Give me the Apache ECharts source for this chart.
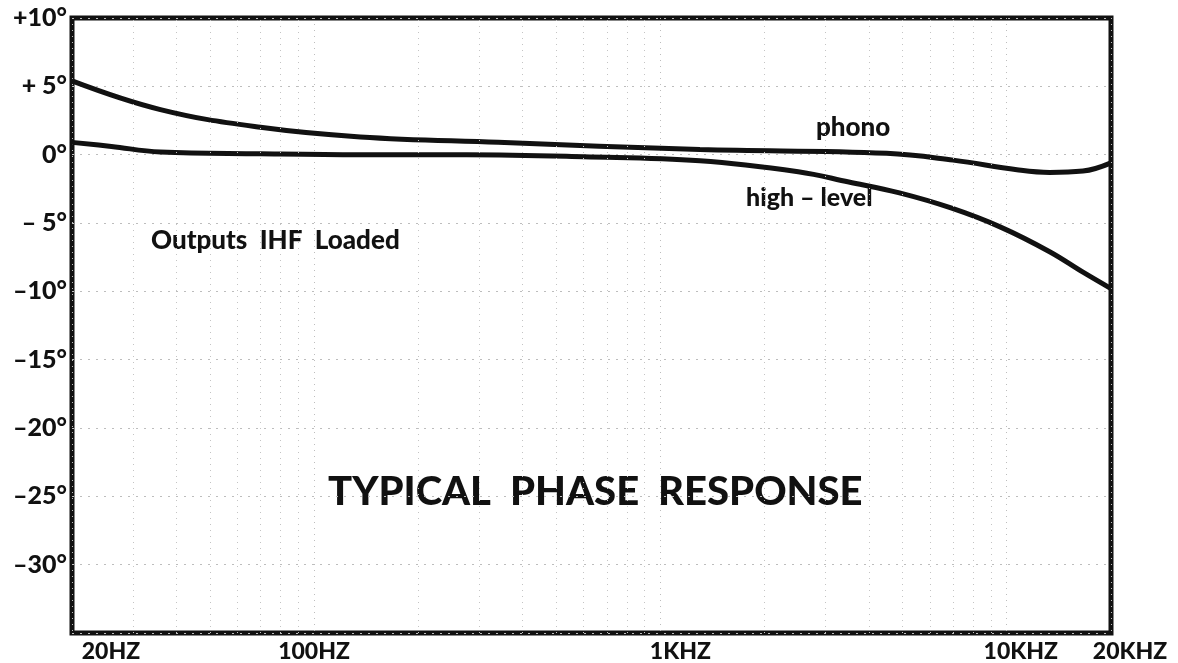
<!DOCTYPE html>
<html>
<head>
<meta charset="utf-8">
<script src="https://cdn.jsdelivr.net/npm/echarts@6/dist/echarts.min.js"></script>
<style>
  html, body { margin: 0; padding: 0; background: #fff; }
  #phaseChart { width: 1178px; height: 663px; }
</style>
</head>
<body>
<div id="phaseChart"></div>
<script>
// frequency (Hz) / phase (degrees)
const phonoFreq = [20, 36, 70, 136, 340, 1300, 4500, 7000, 10700, 13300, 16600, 20000]
const phonoPhase = [5.4, 3.3, 2.0, 1.3, 0.9, 0.37, 0.1, -0.4, -1.1, -1.3, -1.2, -0.6]

const highLevelFreq = [20, 26, 36, 70, 136, 276, 600, 1300, 2500, 3500, 4900, 6900, 9600, 13300, 16600, 20000]
const highLevelPhase = [0.9, 0.6, 0.2, 0.07, 0, 0, -0.15, -0.45, -1.25, -2.0, -2.8, -3.9, -5.3, -7.1, -8.6, -9.8]

const xTickValues = [20, 100, 1000, 10000, 20000]
const xTickLabels = ['20HZ', '100HZ', '1KHZ', '10KHZ', '20KHZ']

const yTickValues = [10, 5, 0, -5, -10, -15, -20, -25, -30]
const yTickLabels = ['+10°', '+ 5°', '0°', '– 5°', '–10°', '–15°', '–20°', '–25°', '–30°']

// faint vertical rulings of the graph paper
const gridFreqs = [30, 40, 50, 60, 70, 80, 90, 200, 300, 400, 500, 600, 700, 800, 900,
  2000, 3000, 4000, 5000, 6000, 7000, 8000, 9000]

const FONT = 'Lato, "DejaVu Sans", sans-serif'
const INK = '#111'

// small right shifts of some frequency labels, as printed
const xLabelShift = { '20HZ': 78, '1KHZ': 40, '10KHZ': 28, '20KHZ': 38 }

const toPairs = (xs, ys) => xs.map((x, i) => [x, ys[i]])

const initPhaseChart = () => {
  const chart = echarts.init(document.getElementById('phaseChart'))
  const rich = {}
  Object.keys(xLabelShift).forEach((k, i) => {
    rich['s' + i] = { padding: [0, 0, 0, xLabelShift[k]], fontFamily: FONT, fontWeight: 900, fontSize: 23, color: INK }
  })
  const option = {
    animation: false,
    backgroundColor: '#fff',
    grid: {
      left: 72, right: 67, top: 18, bottom: 30,
      show: true,
      borderColor: INK,
      borderWidth: 5
    },
    xAxis: {
      type: 'log',
      logBase: 10,
      min: 20,
      max: 20000,
      axisLine: { show: false },
      axisTick: { show: false },
      splitLine: { show: true, lineStyle: { color: '#bdbdbd', type: [1, 5], width: 1 } },
      axisLabel: {
        margin: 7,
        fontFamily: FONT,
        fontWeight: 900,
        fontSize: 23,
        color: INK,
        showMinLabel: true,
        showMaxLabel: true,
        rich: rich,
        formatter: function (value) {
          const idx = xTickValues.findIndex(v => Math.abs(v - value) / v < 1e-6)
          if (idx < 0) return ''
          const label = xTickLabels[idx]
          const shiftIdx = Object.keys(xLabelShift).indexOf(label)
          return shiftIdx >= 0 ? '{s' + shiftIdx + '|' + label + '}' : label
        }
      }
    },
    yAxis: {
      type: 'value',
      min: -35,
      max: 10,
      interval: 5,
      axisLine: { show: false },
      axisTick: { show: false },
      splitLine: { show: true, lineStyle: { color: '#bdbdbd', type: [2, 6], width: 1 } },
      axisLabel: {
        margin: 5,
        fontFamily: FONT,
        fontWeight: 900,
        fontSize: 25,
        color: INK,
        formatter: function (value) {
          const idx = yTickValues.indexOf(value)
          return idx < 0 ? '' : yTickLabels[idx]
        }
      }
    },
    series: [{
      name: 'phono',
      type: 'line',
      smooth: 0.4,
      showSymbol: false,
      symbol: 'none',
      data: toPairs(phonoFreq, phonoPhase),
      lineStyle: { color: INK, width: 5 },
      markLine: {
        silent: true,
        symbol: 'none',
        label: { show: false },
        lineStyle: { color: '#c4c4c4', type: [1, 5], width: 1 },
        data: gridFreqs.map(f => ({ xAxis: f }))
      },
      z: 3
    }, {
      name: 'high-level',
      type: 'line',
      smooth: 0.4,
      showSymbol: false,
      symbol: 'none',
      data: toPairs(highLevelFreq, highLevelPhase),
      lineStyle: { color: INK, width: 5 },
      z: 3
    }],
    graphic: [{
      type: 'text', left: 816, top: 115,
      style: { text: 'phono', font: '900 26px ' + FONT, fill: INK }
    }, {
      type: 'text', left: 746, top: 185,
      style: { text: 'high – level', font: '900 25px ' + FONT, fill: INK }
    }, {
      type: 'text', left: 151, top: 228,
      style: { text: 'Outputs  IHF  Loaded', font: '900 26px ' + FONT, fill: INK }
    }, {
      type: 'text', left: 328, top: 472,
      style: { text: 'TYPICAL  PHASE  RESPONSE', font: '900 40px ' + FONT, fill: INK }
    }]
  }
  chart.setOption(option)
}

initPhaseChart()
</script>
</body>
</html>
